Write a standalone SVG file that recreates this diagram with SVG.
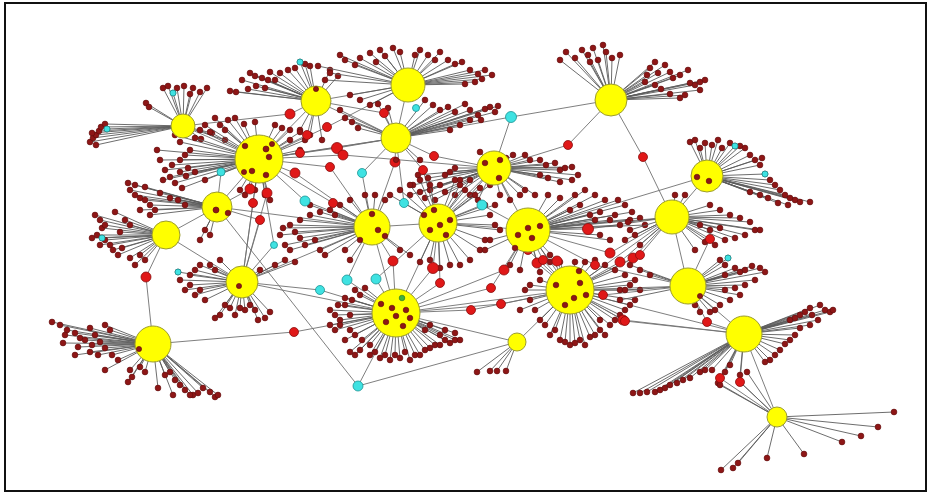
<svg xmlns="http://www.w3.org/2000/svg" width="932" height="495" viewBox="0 0 932 495">
<style>
.sp{fill:none;stroke:#5c5c5c;stroke-width:0.9;marker-start:url(#lf);marker-mid:url(#lf);marker-end:url(#lf)}
.e{fill:none;stroke:#707070;stroke-width:0.9}
.hub{fill:#ffff00;stroke:#9c9c30;stroke-width:1}
.lv{fill:#8e1616;stroke:#5c0a0a;stroke-width:0.6}
.md{fill:#e01818;stroke:#8a0c0c;stroke-width:0.8}
.cy{fill:#3fe2e2;stroke:#1a9494;stroke-width:0.8}
.gr{fill:#40b040;stroke:#207020;stroke-width:0.6}
</style>
<defs>
<marker id="lf" markerUnits="userSpaceOnUse" markerWidth="8" markerHeight="8" refX="4" refY="4"><circle cx="4" cy="4" r="2.9" class="lv"/></marker>
</defs>
<rect x="0" y="0" width="932" height="495" fill="#ffffff"/>
<rect x="5" y="3" width="921" height="488" fill="none" stroke="#111111" stroke-width="2"/>
<g id="connectors">
<path class="e" d="M183 126L259 159M183 126L290 114L316 101M316 101L408 85M316 101L396 138M408 85L396 138M259 159L316 101M259 159L396 138M259 159L217 207M259 159L305 201L372 227M217 207L166 235M217 207L372 227M217 207L358 386M166 235L146 277L153 344M166 235L242 282M153 344L294 332L396 313M242 282L396 313M242 282L372 227M242 282L259 159M358 386L517 342M358 386L396 313M396 138L395 162L372 227M396 138L362 173L372 227M396 138L511 117L611 100M511 117L494 168M611 100L568 145L494 168M611 100L643 157L672 217M372 227L438 223M438 223L494 168M438 223L528 230M494 168L528 230M528 230L570 290M528 230L672 217M707 176L528 230M707 176L672 217M672 217L570 290M672 217L688 286M688 286L744 334M570 290L688 286M570 290L744 334M744 334L777 417M517 342L570 290M517 342L396 313M396 313L570 290M372 227L396 313M438 223L396 313M242 282L320 290L396 313M372 227L347 280L396 313M438 223L376 279L396 313M396 138L404 203L438 223M438 223L482 205L528 230M259 159L221 172M221 172L217 207M242 282L274 245L259 159"/>
<path class="e" d="M259 159L295 173L372 227M259 159L250 189L217 207M259 159L267 193L242 282M259 159L253 203L242 282M217 207L260 220L242 282M259 159L307 135L316 101M259 159L300 153L396 138M316 101L384 113L396 138M396 138L434 156L494 168M259 159L333 203L372 227M528 230L588 229L672 217M259 159L327 127L408 85M259 159L337 148L396 138M259 159L343 155L494 168M259 159L330 167L372 227M396 138L423 170L438 223M672 217L710 239L688 286M372 227L393 261L396 313M438 223L433 268L396 313M438 223L440 283L396 313M396 313L491 288L528 230M396 313L471 310L570 290M528 230L504 270L396 313M396 313L501 304L570 290M528 230L557 261L570 290M528 230L528 250L570 290M528 230L537 263L570 290M528 230L543 260L570 290M570 290L623 320L744 334M570 290L603 295L688 286M672 217L633 258L570 290M672 217L640 255L570 290M688 286L707 322L744 334M744 334L720 378L777 417M744 334L740 382L777 417M672 217L610 253L528 230M672 217L620 262L570 290M528 230L595 265L688 286M570 290L625 321L744 334"/>
</g>
<g id="fans">
<path id="fan-A" class="sp" d="M183 126L163 88M183 126L168 86M183 126L173 93M183 126L177 88M183 126L184 86M183 126L190 94M183 126L193 88M183 126L200 92M183 126L207 88M183 126L146 103M183 126L149 107M183 126L90 142M183 126L93 138M183 126L96 135M183 126L99 131M183 126L101 127M183 126L105 124M183 126L107 129M183 126L96 145M183 126L92 133M183 126L212 133M183 126L225 140M183 126L201 139"/>
<path id="fan-E" class="sp" d="M316 101L250 73M316 101L255 76M316 101L262 78M316 101L270 72M316 101L275 80M316 101L280 73M316 101L288 70M316 101L295 68M316 101L300 62M316 101L305 64M316 101L310 66M316 101L230 91M316 101L236 92M316 101L248 89M316 101L256 86M316 101L265 88M316 101L268 80M316 101L242 80M316 101L300 130M316 101L310 135M316 101L322 140M316 101L330 70M316 101L338 76"/>
<path id="fan-F" class="sp" d="M408 85L340 55M408 85L345 60M408 85L355 65M408 85L360 58M408 85L370 53M408 85L380 50M408 85L385 56M408 85L393 48M408 85L400 52M408 85L318 66M408 85L330 73M408 85L325 80M408 85L420 50M408 85L428 55M408 85L435 60M408 85L440 52M408 85L448 60M408 85L455 64M408 85L462 62M408 85L470 70M408 85L478 74M408 85L485 70M408 85L492 75M408 85L482 79M408 85L475 82M408 85L465 84M408 85L350 95M408 85L360 100M408 85L370 105M408 85L415 55M408 85L376 62"/>
<path id="fan-G" class="sp" d="M396 138L425 100M396 138L433 105M396 138L440 110M396 138L448 107M396 138L455 112M396 138L465 104M396 138L470 110M396 138L478 115M396 138L485 109M396 138L490 107M396 138L495 112M396 138L498 106M396 138L470 120M396 138L460 125M396 138L450 130M396 138L481 120M396 138L345 118M396 138L352 122M396 138L340 110M396 138L358 128M396 138L388 108M396 138L378 104M396 138L420 160"/>
<path id="fan-H" class="sp" d="M611 100L560 60M611 100L566 52M611 100L575 58M611 100L582 50M611 100L588 55M611 100L593 48M611 100L598 60M611 100L603 45M611 100L606 52M611 100L612 58M611 100L620 55M611 100L590 62M611 100L647 75M611 100L650 68M611 100L655 62M611 100L658 73M611 100L665 65M611 100L670 72M611 100L673 78M611 100L680 75M611 100L688 70M611 100L690 83M611 100L695 85M611 100L700 82M611 100L705 80M611 100L700 90M611 100L685 95M611 100L680 98M611 100L670 94M611 100L661 89M611 100L655 85M611 100L645 82"/>
<path id="fan-I" class="sp" d="M494 168L540 160M494 168L546 165M494 168L555 163M494 168L560 170M494 168L565 168M494 168L572 167M494 168L578 175M494 168L572 180M494 168L560 182M494 168L548 178M494 168L540 175M494 168L480 152M494 168L506 158M494 168L513 155M494 168L525 155M494 168L530 160M494 168L445 175M494 168L450 172M494 168L455 168M494 168L460 180M494 168L440 185M494 168L430 190M494 168L420 192M494 168L413 185M494 168L410 195M494 168L425 198M494 168L435 200M494 168L445 192M494 168L455 195M494 168L470 195M494 168L478 200M494 168L500 195M494 168L510 200M494 168L520 195M494 168L525 190M494 168L535 195M494 168L418 175M494 168L428 178"/>
<path id="fan-B" class="sp" d="M259 159L157 150M259 159L160 160M259 159L165 170M259 159L170 177M259 159L175 183M259 159L163 180M259 159L172 165M259 159L180 160M259 159L185 155M259 159L190 150M259 159L175 135M259 159L180 142M259 159L195 138M259 159L200 130M259 159L205 125M259 159L210 132M259 159L220 125M259 159L225 130M259 159L215 118M259 159L228 120M259 159L235 118M259 159L180 172M259 159L188 168M259 159L195 172M259 159L205 180M259 159L182 188M259 159L186 176M259 159L275 125M259 159L282 128M259 159L290 130M259 159L300 132M259 159L305 140M259 159L300 150M259 159L290 140M259 159L245 195M259 159L255 190M259 159L265 195M259 159L270 200M259 159L240 190M259 159L244 124M259 159L255 122"/>
<path id="fan-C" class="sp" d="M217 207L130 190M217 207L135 195M217 207L140 198M217 207L145 200M217 207L150 205M217 207L155 210M217 207L145 187M217 207L160 193M217 207L170 198M217 207L178 200M217 207L185 205M217 207L140 210M217 207L150 215M217 207L205 230M217 207L200 240M217 207L210 235M217 207L128 183M217 207L135 185"/>
<path id="fan-D" class="sp" d="M166 235L95 215M166 235L100 220M166 235L102 228M166 235L97 235M166 235L105 240M166 235L110 245M166 235L113 250M166 235L118 255M166 235L100 245M166 235L92 238M166 235L125 220M166 235L130 225M166 235L115 212M166 235L120 232M166 235L140 255M166 235L145 260M166 235L130 258M166 235L135 265M166 235L105 225M166 235L102 238M166 235L122 248"/>
<path id="fan-J" class="sp" d="M372 227L290 225M372 227L295 232M372 227L300 238M372 227L305 245M372 227L300 220M372 227L310 215M372 227L315 240M372 227L320 250M372 227L325 255M372 227L285 245M372 227L290 250M372 227L330 210M372 227L335 215M372 227L340 205M372 227L345 250M372 227L350 260M372 227L310 205M372 227L320 212M372 227L350 200M372 227L365 195M372 227L375 195M372 227L385 200M372 227L400 250M372 227L410 255M372 227L280 235M372 227L283 228"/>
<path id="fan-K" class="sp" d="M438 223L465 190M438 223L475 195M438 223L480 188M438 223L490 185M438 223L470 180M438 223L490 215M438 223L495 225M438 223L500 230M438 223L485 240M438 223L480 250M438 223L470 260M438 223L460 265M438 223L400 190M438 223L410 185M438 223L420 180M438 223L430 185M438 223L390 195M438 223L430 260M438 223L440 268M438 223L450 265M438 223L420 262M438 223L460 185M438 223L455 180M438 223L485 205M438 223L495 205"/>
<path id="fan-L" class="sp" d="M528 230L570 210M528 230L580 205M528 230L590 215M528 230L595 220M528 230L600 212M528 230L610 220M528 230L615 215M528 230L620 225M528 230L630 220M528 230L625 205M528 230L618 200M528 230L605 200M528 230L595 195M528 230L585 190M528 230L575 195M528 230L632 212M528 230L640 218M528 230L645 225M528 230L600 235M528 230L610 240M528 230L490 240M528 230L485 250M528 230L510 265M528 230L520 270M528 230L540 272M528 230L550 262M528 230L560 198M528 230L548 195"/>
<path id="fan-M" class="sp" d="M707 176L690 142M707 176L695 140M707 176L700 148M707 176L705 143M707 176L712 145M707 176L718 140M707 176L722 148M707 176L730 143M707 176L735 146M707 176L740 146M707 176L745 148M707 176L750 155M707 176L755 160M707 176L760 165M707 176L762 158M707 176L765 174M707 176L770 180M707 176L775 185M707 176L780 190M707 176L785 195M707 176L790 198M707 176L795 200M707 176L800 202M707 176L810 202M707 176L788 205M707 176L778 203M707 176L768 198M707 176L760 195M707 176L750 192"/>
<path id="fan-N" class="sp" d="M672 217L710 205M672 217L720 210M672 217L730 215M672 217L740 218M672 217L750 222M672 217L755 230M672 217L745 235M672 217L735 238M672 217L725 240M672 217L715 245M672 217L705 242M672 217L695 250M672 217L700 225M672 217L710 230M672 217L720 228M672 217L760 230M672 217L630 230M672 217L625 240M672 217L640 245M672 217L635 235M672 217L628 222M672 217L675 195M672 217L685 195"/>
<path id="fan-P" class="sp" d="M242 282L178 272M242 282L180 280M242 282L185 290M242 282L190 285M242 282L195 295M242 282L200 290M242 282L205 300M242 282L190 275M242 282L195 270M242 282L200 265M242 282L210 265M242 282L215 270M242 282L220 260M242 282L215 318M242 282L220 315M242 282L230 308M242 282L235 315M242 282L240 308M242 282L245 310M242 282L250 305M242 282L255 310M242 282L258 320M242 282L265 318M242 282L270 312M242 282L225 305M242 282L260 270M242 282L275 265M242 282L285 260M242 282L295 262"/>
<path id="fan-O" class="sp" d="M153 344L52 322M153 344L60 325M153 344L67 330M153 344L65 335M153 344L75 333M153 344L80 338M153 344L85 340M153 344L90 328M153 344L95 335M153 344L92 345M153 344L100 342M153 344L105 348M153 344L98 355M153 344L90 352M153 344L75 355M153 344L63 343M153 344L78 347M153 344L110 330M153 344L105 325M153 344L112 355M153 344L118 360M153 344L105 370M153 344L130 370M153 344L140 367M153 344L128 382M153 344L132 377M153 344L145 372M153 344L158 388M153 344L165 375M153 344L170 372M153 344L175 380M153 344L180 385M153 344L185 390M153 344L193 395M153 344L198 393M153 344L203 388M153 344L210 392M153 344L215 397M153 344L218 395M153 344L173 395M153 344L190 395"/>
<path id="fan-Q" class="sp" d="M396 313L330 310M396 313L335 315M396 313L340 320M396 313L345 305M396 313L335 330M396 313L340 325M396 313L350 330M396 313L355 335M396 313L345 340M396 313L330 325M396 313L338 305M396 313L345 298M396 313L352 300M396 313L355 290M396 313L360 295M396 313L365 288M396 313L350 315M396 313L350 352M396 313L355 355M396 313L360 350M396 313L370 355M396 313L375 352M396 313L380 358M396 313L385 355M396 313L390 360M396 313L395 355M396 313L400 358M396 313L405 352M396 313L410 360M396 313L415 355M396 313L420 355M396 313L425 350M396 313L430 348M396 313L435 345M396 313L440 345M396 313L445 340M396 313L450 343M396 313L455 340M396 313L460 340M396 313L440 335M396 313L425 330M396 313L430 325M396 313L445 330M396 313L455 333M396 313L370 345M396 313L362 340"/>
<path id="fan-R" class="sp" d="M517 342L477 372M517 342L490 371M517 342L497 371M517 342L506 371"/>
<path id="fan-S" class="sp" d="M570 290L530 300M570 290L535 310M570 290L540 320M570 290L545 325M570 290L550 335M570 290L555 330M570 290L560 340M570 290L565 342M570 290L570 345M570 290L575 343M570 290L580 340M570 290L585 345M570 290L590 337M570 290L595 335M570 290L600 330M570 290L605 335M570 290L610 325M570 290L615 320M570 290L520 310M570 290L525 290M570 290L530 285M570 290L540 280M570 290L600 320M570 290L620 315M570 290L625 310M570 290L630 305M570 290L635 300M570 290L640 290M570 290L635 280M570 290L625 275M570 290L615 270M570 290L605 265M570 290L620 290M570 290L630 285M570 290L550 255M570 290L560 262M570 290L575 262M570 290L585 262M570 290L595 260"/>
<path id="fan-T" class="sp" d="M688 286L720 260M688 286L725 265M688 286L735 268M688 286L740 272M688 286L745 270M688 286L752 266M688 286L760 268M688 286L765 272M688 286L755 280M688 286L745 285M688 286L735 288M688 286L725 290M688 286L740 295M688 286L730 300M688 286L720 305M688 286L715 310M688 286L710 312M688 286L700 312M688 286L695 305M688 286L725 275M688 286L728 258M688 286L630 265M688 286L640 270M688 286L650 275M688 286L625 290M688 286L620 300"/>
<path id="fan-U" class="sp" d="M744 334L790 320M744 334L795 318M744 334L800 315M744 334L805 312M744 334L810 308M744 334L820 305M744 334L825 310M744 334L830 312M744 334L833 310M744 334L818 320M744 334L810 325M744 334L800 328M744 334L795 335M744 334L790 340M744 334L785 344M744 334L780 350M744 334L775 355M744 334L770 360M744 334L765 362M744 334L812 315M744 334L633 393M744 334L640 393M744 334L647 392M744 334L655 392M744 334L660 390M744 334L665 388M744 334L670 385M744 334L677 383M744 334L683 380M744 334L690 378M744 334L700 372M744 334L705 370M744 334L712 370M744 334L720 380M744 334L725 372M744 334L730 365M744 334L740 375"/>
<path id="fan-V" class="sp" d="M777 417L894 412M777 417L878 427M777 417L861 436M777 417L842 442M777 417L804 454M777 417L721 470M777 417L733 468M777 417L738 463M777 417L767 458M777 417L718 383M777 417L740 382M777 417L747 372M777 417L720 385"/>
</g>
<g id="mid-nodes">
<circle id="m1" class="md" cx="290" cy="114" r="5"/>
<circle id="m2" class="md" cx="295" cy="173" r="5"/>
<circle id="m3" class="md" cx="250" cy="189" r="5"/>
<circle id="m4" class="md" cx="267" cy="193" r="5"/>
<circle id="m5" class="md" cx="253" cy="203" r="4.5"/>
<circle id="m6" class="md" cx="260" cy="220" r="4.5"/>
<circle id="m7" class="md" cx="307" cy="135" r="4.5"/>
<circle id="m8" class="md" cx="300" cy="153" r="4.5"/>
<circle id="m9" class="md" cx="384" cy="113" r="4.5"/>
<circle id="m10" class="md" cx="395" cy="162" r="5"/>
<circle id="m11" class="md" cx="434" cy="156" r="4.5"/>
<circle id="m12" class="md" cx="568" cy="145" r="4.5"/>
<circle id="m13" class="md" cx="333" cy="203" r="4.5"/>
<circle id="m14" class="md" cx="588" cy="229" r="5.5"/>
<circle id="m15" class="md" cx="327" cy="127" r="4.5"/>
<circle id="m16" class="md" cx="337" cy="148" r="5.5"/>
<circle id="m17" class="md" cx="343" cy="155" r="5"/>
<circle id="m18" class="md" cx="330" cy="167" r="4.5"/>
<circle id="m19" class="md" cx="423" cy="170" r="4.5"/>
<circle id="m20" class="md" cx="643" cy="157" r="4.5"/>
<circle id="m21" class="md" cx="710" cy="239" r="4.5"/>
<circle id="m22" class="md" cx="393" cy="261" r="5"/>
<circle id="m23" class="md" cx="433" cy="268" r="5.5"/>
<circle id="m24" class="md" cx="440" cy="283" r="4.5"/>
<circle id="m25" class="md" cx="491" cy="288" r="4.5"/>
<circle id="m26" class="md" cx="471" cy="310" r="4.5"/>
<circle id="m27" class="md" cx="504" cy="270" r="5"/>
<circle id="m28" class="md" cx="501" cy="304" r="4.5"/>
<circle id="m29" class="md" cx="557" cy="261" r="5"/>
<circle id="m30" class="md" cx="528" cy="250" r="4.5"/>
<circle id="m31" class="md" cx="537" cy="263" r="5"/>
<circle id="m32" class="md" cx="543" cy="260" r="4.5"/>
<circle id="m33" class="md" cx="623" cy="320" r="5"/>
<circle id="m34" class="md" cx="603" cy="295" r="4.5"/>
<circle id="m35" class="md" cx="633" cy="258" r="5"/>
<circle id="m36" class="md" cx="640" cy="255" r="4.5"/>
<circle id="m37" class="md" cx="707" cy="322" r="4.5"/>
<circle id="m38" class="md" cx="720" cy="378" r="4.5"/>
<circle id="m39" class="md" cx="740" cy="382" r="4.5"/>
<circle id="m40" class="md" cx="610" cy="253" r="5"/>
<circle id="m41" class="md" cx="620" cy="262" r="5"/>
<circle id="m42" class="md" cx="595" cy="265" r="4.5"/>
<circle id="m43" class="md" cx="146" cy="277" r="5"/>
<circle id="m44" class="md" cx="294" cy="332" r="4.5"/>
<circle id="m45" class="md" cx="625" cy="321" r="4.5"/>
<circle id="c1" class="cy" cx="511" cy="117" r="5.5"/>
<circle id="c2" class="cy" cx="305" cy="201" r="5"/>
<circle id="c3" class="cy" cx="362" cy="173" r="4.5"/>
<circle id="c4" class="cy" cx="404" cy="203" r="4.5"/>
<circle id="c5" class="cy" cx="482" cy="205" r="5"/>
<circle id="c6" class="cy" cx="320" cy="290" r="4.5"/>
<circle id="c7" class="cy" cx="347" cy="280" r="5"/>
<circle id="c8" class="cy" cx="376" cy="279" r="5"/>
<circle id="c9" class="cy" cx="358" cy="386" r="5"/>
<circle id="c10" class="cy" cx="221" cy="172" r="4"/>
<circle id="c11" class="cy" cx="274" cy="245" r="3.5"/>
<circle id="c12" class="cy" cx="178" cy="272" r="3"/>
<circle id="c13" class="cy" cx="173" cy="93" r="3"/>
<circle id="c14" class="cy" cx="107" cy="129" r="3"/>
<circle id="c15" class="cy" cx="300" cy="62" r="3"/>
<circle id="c16" class="cy" cx="102" cy="238" r="3"/>
<circle id="c17" class="cy" cx="735" cy="146" r="3"/>
<circle id="c18" class="cy" cx="765" cy="174" r="3"/>
<circle id="c19" class="cy" cx="728" cy="258" r="3"/>
<circle id="c20" class="cy" cx="416" cy="108" r="3.5"/>
</g>
<g id="hub-A"><circle class="hub" cx="183" cy="126" r="12"/></g>
<g id="hub-E"><circle class="hub" cx="316" cy="101" r="15"/></g>
<g id="hub-F"><circle class="hub" cx="408" cy="85" r="17"/></g>
<g id="hub-G"><circle class="hub" cx="396" cy="138" r="15"/></g>
<g id="hub-H"><circle class="hub" cx="611" cy="100" r="16"/></g>
<g id="hub-I"><circle class="hub" cx="494" cy="168" r="17"/></g>
<g id="hub-B"><circle class="hub" cx="259" cy="159" r="24"/></g>
<g id="hub-C"><circle class="hub" cx="217" cy="207" r="15"/></g>
<g id="hub-D"><circle class="hub" cx="166" cy="235" r="14"/></g>
<g id="hub-J"><circle class="hub" cx="372" cy="227" r="18"/></g>
<g id="hub-K"><circle class="hub" cx="438" cy="223" r="19"/></g>
<g id="hub-L"><circle class="hub" cx="528" cy="230" r="22"/></g>
<g id="hub-M"><circle class="hub" cx="707" cy="176" r="16"/></g>
<g id="hub-N"><circle class="hub" cx="672" cy="217" r="17"/></g>
<g id="hub-P"><circle class="hub" cx="242" cy="282" r="16"/></g>
<g id="hub-O"><circle class="hub" cx="153" cy="344" r="18"/></g>
<g id="hub-Q"><circle class="hub" cx="396" cy="313" r="24"/></g>
<g id="hub-R"><circle class="hub" cx="517" cy="342" r="9"/></g>
<g id="hub-S"><circle class="hub" cx="570" cy="290" r="24"/></g>
<g id="hub-T"><circle class="hub" cx="688" cy="286" r="18"/></g>
<g id="hub-U"><circle class="hub" cx="744" cy="334" r="18"/></g>
<g id="hub-V"><circle class="hub" cx="777" cy="417" r="10"/></g>
<g id="overlay-dots">
<circle class="lv" cx="245" cy="146" r="2.8"/><circle class="lv" cx="266" cy="149" r="3"/><circle class="lv" cx="269" cy="157" r="2.8"/><circle class="lv" cx="252" cy="171" r="2.8"/><circle class="lv" cx="266" cy="175" r="2.8"/><circle class="lv" cx="244" cy="172" r="2.6"/><circle class="lv" cx="272" cy="144" r="2.6"/>
<circle class="lv" cx="381" cy="304" r="2.8"/><circle class="lv" cx="392" cy="308" r="2.8"/><circle class="lv" cx="396" cy="316" r="2.8"/><circle class="lv" cx="406" cy="310" r="2.8"/><circle class="lv" cx="386" cy="322" r="2.8"/><circle class="lv" cx="403" cy="326" r="2.8"/><circle class="lv" cx="410" cy="318" r="2.8"/><circle class="gr" cx="402" cy="298" r="2.8"/>
<circle class="lv" cx="556" cy="285" r="2.8"/><circle class="lv" cx="574" cy="298" r="2.8"/><circle class="lv" cx="580" cy="283" r="2.8"/><circle class="lv" cx="586" cy="295" r="2.8"/><circle class="lv" cx="565" cy="305" r="2.8"/><circle class="lv" cx="579" cy="271" r="2.8"/>
<circle class="lv" cx="528" cy="228" r="2.8"/><circle class="lv" cx="532" cy="238" r="2.8"/><circle class="lv" cx="518" cy="235" r="2.8"/><circle class="lv" cx="515" cy="248" r="2.8"/><circle class="lv" cx="540" cy="226" r="2.8"/>
<circle class="lv" cx="424" cy="215" r="2.8"/><circle class="lv" cx="434" cy="210" r="2.8"/><circle class="lv" cx="440" cy="225" r="2.8"/><circle class="lv" cx="450" cy="220" r="2.8"/><circle class="lv" cx="430" cy="230" r="2.8"/><circle class="lv" cx="446" cy="235" r="2.8"/>
<circle class="lv" cx="372" cy="214" r="2.8"/><circle class="lv" cx="378" cy="230" r="2.8"/><circle class="lv" cx="385" cy="236" r="2.8"/><circle class="lv" cx="360" cy="240" r="2.8"/>
<circle class="lv" cx="485" cy="163" r="2.8"/><circle class="lv" cx="500" cy="160" r="2.8"/><circle class="lv" cx="499" cy="178" r="2.8"/>
<circle class="lv" cx="697" cy="177" r="2.8"/><circle class="lv" cx="709" cy="181" r="2.8"/>
<circle class="lv" cx="216" cy="210" r="3"/><circle class="lv" cx="228" cy="213" r="2.8"/>
<circle class="lv" cx="139" cy="349" r="2.6"/><circle class="lv" cx="239" cy="286" r="2.6"/><circle class="lv" cx="700" cy="296" r="2.6"/><circle class="lv" cx="316" cy="89" r="2.6"/><circle class="lv" cx="396" cy="160" r="2.6"/>
</g>
</svg>
